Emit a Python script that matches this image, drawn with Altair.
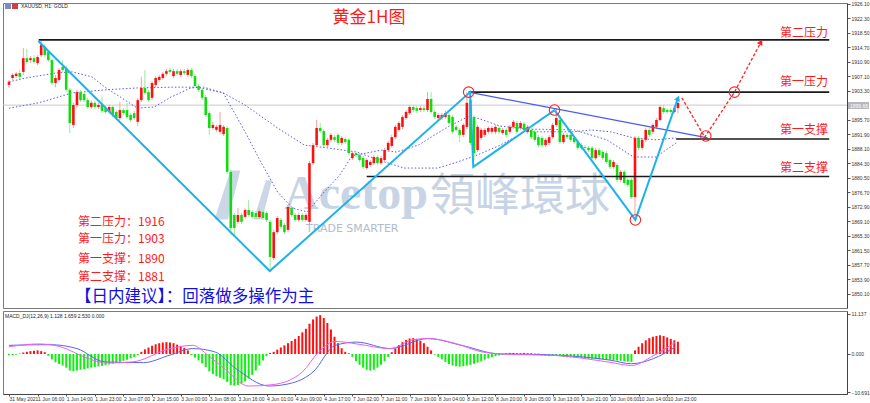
import altair as alt
import pandas as pd

# ---------------- data ----------------
OPEN = [
1904.9,1906.7,1907.2,1908.0,1908.3,1911.9,1911.4,1911.9,1910.6,1912.7,
1914.8,1913.5,1911.4,1905.4,1906.2,1909.6,1909.3,1903.6,1894.4,1899.6,
1903.0,1902.5,1900.9,1899.1,1900.2,1899.1,1899.6,1898.8,1897.8,1899.1,
1897.8,1896.2,1898.3,1898.3,1897.0,1897.5,1895.2,1900.9,1904.1,1903.0,
1901.5,1904.9,1906.2,1906.7,1907.8,1908.8,1907.2,1908.5,1907.5,1908.5,
1907.5,1908.8,1907.2,1904.6,1903.6,1901.7,1897.5,1893.6,1893.1,1892.6,
1892.0,1893.6,1882.1,1870.8,1869.0,1870.8,1870.3,1872.1,1871.6,1871.3,
1870.3,1871.6,1871.3,1869.0,1859.5,1866.3,1869.5,1868.2,1866.9,1872.6,
1870.8,1869.5,1870.8,1869.5,1869.0,1884.4,1889.1,1893.6,1892.8,1889.1,
1890.5,1891.2,1891.8,1889.7,1890.7,1890.5,1885.7,1887.0,1886.5,1885.7,
1883.1,1883.9,1884.4,1886.0,1884.4,1885.2,1887.8,1888.9,1891.2,1893.1,
1893.9,1896.2,1897.5,1899.1,1898.8,1898.3,1898.8,1898.3,1901.2,1897.8,
1896.2,1896.2,1896.5,1897.0,1896.5,1893.9,1893.1,1891.8,1893.9,1900.9,
1896.5,1887.8,1891.0,1891.8,1892.6,1892.6,1892.6,1893.6,1892.3,1893.1,
1892.6,1893.9,1894.9,1893.6,1894.7,1892.6,1893.1,1892.6,1891.2,1891.0,
1889.1,1889.7,1891.2,1894.4,1895.7,1889.9,1891.8,1891.8,1891.0,1889.9,
1889.1,1888.6,1888.4,1888.4,1885.7,1887.8,1887.3,1887.0,1885.2,1883.4,
1883.9,1880.0,1882.1,1880.0,1880.0,1875.5,1891.0,1888.4,1890.5,1893.1,
1892.6,1893.9,1895.7,1898.8,1898.3,1898.3,1897.8,1898.8]
CLOSE = [
1905.7,1907.5,1907.8,1907.0,1911.9,1910.9,1911.9,1910.9,1912.2,1915.4,
1912.7,1911.4,1905.4,1906.7,1908.8,1908.8,1903.6,1894.9,1899.6,1903.0,
1900.9,1900.9,1899.1,1900.2,1899.1,1899.6,1898.1,1897.8,1899.1,1897.0,
1896.2,1898.3,1897.5,1896.5,1895.7,1896.2,1900.9,1904.1,1902.8,1900.9,
1905.4,1906.7,1907.0,1907.8,1908.5,1908.3,1908.5,1907.8,1908.5,1908.0,
1908.8,1907.2,1904.6,1903.6,1901.5,1897.0,1893.6,1894.4,1893.9,1894.4,
1893.9,1882.1,1867.4,1867.4,1870.8,1869.0,1872.1,1870.8,1870.3,1870.3,
1871.8,1870.0,1869.5,1859.8,1866.3,1870.0,1867.7,1866.3,1872.9,1870.8,
1869.5,1870.8,1869.5,1870.8,1884.4,1889.1,1893.6,1892.8,1889.1,1890.5,
1891.8,1890.5,1889.7,1891.0,1889.9,1887.0,1887.0,1886.5,1885.2,1883.4,
1885.2,1884.7,1886.0,1884.4,1885.7,1887.8,1889.7,1891.2,1893.9,1894.9,
1896.5,1897.8,1899.1,1898.3,1898.1,1898.8,1898.3,1901.2,1897.8,1896.5,
1897.0,1897.0,1897.5,1894.9,1892.6,1893.1,1891.8,1894.4,1900.2,1889.7,
1887.0,1893.9,1893.1,1893.1,1893.6,1893.6,1893.9,1892.6,1893.1,1891.8,
1893.9,1895.2,1892.6,1894.9,1893.1,1893.9,1891.2,1890.5,1889.1,1889.1,
1890.5,1891.2,1894.4,1896.2,1889.9,1891.8,1891.2,1890.5,1889.9,1888.4,
1888.4,1888.4,1887.8,1885.7,1887.8,1886.5,1885.7,1884.7,1883.4,1884.7,
1880.0,1882.1,1879.2,1878.7,1875.5,1891.0,1888.4,1890.5,1893.1,1891.8,
1894.4,1895.7,1899.1,1897.8,1897.8,1897.8,1898.8,1900.2]
HIGH = [
1906.2,1908.0,1908.3,1908.8,1914.6,1914.3,1912.5,1912.7,1912.7,1916.4,
1915.6,1914.0,1911.9,1907.5,1909.3,1911.4,1909.9,1904.1,1900.2,1903.6,
1903.6,1903.0,1901.5,1900.7,1900.7,1900.2,1901.7,1899.4,1899.6,1899.6,
1898.3,1900.4,1898.8,1900.2,1897.5,1898.1,1901.5,1907.0,1908.8,1903.6,
1905.9,1907.2,1907.5,1908.3,1909.1,1909.3,1909.1,1909.1,1909.1,1909.1,
1909.3,1909.3,1907.8,1905.1,1904.1,1902.3,1898.1,1895.2,1894.4,1897.8,
1894.4,1894.1,1882.6,1871.3,1872.6,1871.3,1872.6,1874.7,1872.1,1871.8,
1872.4,1872.1,1871.8,1869.5,1866.9,1870.5,1870.0,1868.7,1873.4,1873.2,
1871.3,1871.3,1871.3,1871.3,1885.0,1889.7,1895.7,1894.9,1893.3,1891.0,
1892.3,1891.8,1892.3,1891.5,1891.2,1891.0,1887.6,1887.6,1887.0,1886.3,
1885.7,1885.2,1886.5,1886.5,1886.3,1888.4,1890.2,1891.8,1894.4,1895.4,
1897.0,1898.3,1899.6,1899.6,1899.4,1899.4,1899.4,1903.0,1903.0,1898.3,
1897.5,1897.5,1898.1,1897.5,1897.0,1894.4,1893.6,1894.9,1903.0,1901.2,
1897.0,1894.4,1893.6,1893.6,1894.1,1894.1,1894.4,1894.1,1893.6,1893.6,
1894.4,1895.7,1895.4,1895.4,1895.2,1894.4,1893.6,1893.1,1891.8,1891.5,
1891.0,1891.8,1894.9,1898.8,1897.0,1892.3,1892.3,1892.3,1891.5,1890.5,
1889.7,1889.1,1888.9,1888.9,1888.4,1888.4,1887.8,1887.6,1885.7,1885.2,
1884.4,1882.6,1882.6,1880.5,1880.5,1891.5,1891.5,1891.0,1893.6,1893.6,
1894.9,1896.2,1899.6,1899.6,1898.8,1898.8,1899.4,1900.7]
LOW = [
1904.1,1906.2,1906.7,1906.4,1907.5,1910.4,1910.6,1910.4,1910.1,1912.2,
1912.2,1910.9,1904.9,1904.3,1905.7,1908.3,1903.0,1892.3,1893.6,1899.1,
1900.4,1900.4,1898.6,1898.6,1898.6,1898.6,1897.5,1897.3,1897.3,1896.5,
1895.7,1895.7,1897.0,1896.0,1895.2,1895.7,1894.1,1900.4,1902.3,1900.4,
1900.9,1904.3,1905.7,1906.2,1907.2,1907.8,1906.7,1907.2,1907.0,1907.5,
1907.0,1906.7,1904.1,1903.0,1900.9,1896.5,1891.8,1893.1,1892.6,1892.0,
1891.5,1881.5,1865.6,1865.0,1868.4,1868.4,1869.8,1870.3,1869.8,1869.8,
1869.8,1869.5,1869.0,1856.4,1859.0,1865.8,1867.1,1865.8,1866.3,1870.3,
1869.0,1869.0,1869.0,1869.0,1868.4,1883.9,1888.6,1892.3,1888.6,1888.6,
1889.9,1889.9,1889.1,1889.1,1889.4,1886.5,1885.2,1886.0,1884.7,1882.9,
1882.6,1883.4,1883.9,1883.9,1883.9,1884.7,1887.3,1888.4,1890.7,1892.6,
1893.3,1895.7,1897.0,1897.8,1897.5,1897.8,1897.8,1897.8,1897.3,1896.0,
1895.7,1895.7,1896.0,1894.4,1892.0,1892.6,1889.9,1891.2,1893.3,1889.1,
1885.2,1887.3,1890.5,1891.2,1892.0,1892.0,1892.0,1892.0,1891.8,1891.2,
1892.0,1893.3,1892.0,1893.1,1892.6,1892.0,1890.7,1889.9,1888.6,1888.6,
1888.6,1889.1,1890.7,1893.9,1889.4,1889.4,1890.7,1889.9,1889.4,1887.8,
1887.8,1887.8,1887.3,1885.2,1885.2,1886.0,1885.2,1884.2,1882.9,1882.9,
1879.4,1879.4,1878.7,1878.1,1875.0,1870.3,1887.8,1887.8,1889.9,1891.2,
1892.0,1893.3,1895.2,1897.3,1897.3,1897.3,1897.3,1897.5]

# two dotted moving averages, sampled (bar index, price)
MA_FAST_I = [0,4.7,13,17.7,23.2,26.8,31.5,35.9,40.6,45.3,50.8,54.4,59.9,66,70.4,75.1,79.3,83.4,88.1,92.5,95.9,104.1,108.3,114.4,122.7,128.2,130.9,137.3,145.6,158,167.1,174.6,180.9,186.5]
MA_FAST_P = [1905.7,1906.7,1908.0,1908.3,1907.0,1904.3,1901.5,1898.8,1899.1,1901.7,1904.1,1904.3,1902.8,1892.6,1884.7,1876.8,1872.6,1871.6,1876.8,1881.3,1886.3,1887.8,1887.3,1889.1,1893.9,1896.5,1896.2,1894.1,1893.3,1893.1,1890.5,1886.0,1886.0,1889.7]
MA_SLOW_I = [0,8.3,17.7,26.8,35.9,45.3,52.5,59.9,66,75.1,82.6,88.9,97.2,105,110.5,119.9,125.4,130.9,137.3,144.2,158,162.7,168.2,174.6,180.9,186.5]
MA_SLOW_P = [1898.8,1900.2,1902.8,1903.6,1904.1,1904.3,1904.3,1902.8,1899.6,1893.6,1889.1,1888.4,1887.3,1884.7,1883.1,1883.1,1884.7,1886.5,1889.1,1892.6,1892.6,1893.1,1892.6,1891.0,1890.5,1891.0]

# support / resistance levels (start bar, end bar, price)
LEVEL_NAMES = ["第二压力", "第一压力", "第一支撑", "第二支撑"]
LEVEL_P = [1916.7, 1903.0, 1890.7, 1880.9]
LEVEL_I1 = [8.3, 128.5, 186.5, 100.0]
LEVEL_I2 = [229.3, 229.3, 229.3, 229.3]
CURRENT_PRICE = 1899.6

ZIG_I = [8.2, 72.9, 128.9, 129.8, 152.5, 175.1, 187.0]
ZIG_P = [1916.4, 1856.1, 1903.0, 1883.4, 1898.3, 1869.5, 1901.4]
TREND_I = [128.5, 195.3]
TREND_P = [1903.0, 1891.0]
PLAN_I = [188.1, 194.5, 202.8, 210.2]
PLAN_P = [1901.5, 1891.2, 1903.0, 1916.1]
CIRCLE_I = [128.5, 152.5, 175.1, 194.8, 202.8]
CIRCLE_P = [1903.0, 1898.3, 1869.5, 1891.5, 1903.0]

Y_TICKS = [1850.1,1853.9,1857.7,1861.5,1865.3,1869.1,1872.9,1876.7,1880.5,1884.3,
           1888.1,1891.9,1895.7,1903.3,1907.1,1910.9,1914.7,1918.5,1922.3,1926.1]
X_LABELS = ["31 May 2021","1 Jun 06:00","1 Jun 14:00","1 Jun 23:00","2 Jun 07:00",
            "2 Jun 15:00","3 Jun 00:00","3 Jun 08:00","3 Jun 16:00","4 Jun 01:00",
            "4 Jun 09:00","4 Jun 17:00","7 Jun 02:00","7 Jun 11:00","7 Jun 19:00",
            "8 Jun 04:00","8 Jun 12:00","8 Jun 20:00","9 Jun 05:00","9 Jun 13:00",
            "9 Jun 21:00","10 Jun 06:00","10 Jun 14:00","10 Jun 23:00"]

HIST = [-0.3,-0.3,-0.2,0.1,
        0.4,0.6,0.8,0.9,1.0,0.8,0.5,
        -0.5,-1.5,-2.3,-2.8,-3.2,-3.8,-4.6,-4.8,-4.6,-4.4,-4.2,-4.0,-3.8,-3.6,-3.4,-3.3,-3.1,-2.9,-2.7,-2.5,-2.2,-1.9,-1.6,-1.2,-0.8,-0.3,
        0.6,1.3,1.8,2.3,2.7,3.0,3.2,3.3,3.2,3.0,2.6,2.2,1.7,1.0,
        -0.3,-1.0,-1.8,-2.6,-3.6,-4.8,-5.6,-6.2,-6.6,-7.0,-7.8,-8.6,-8.8,-8.6,-8.2,-7.6,-6.8,-5.8,-4.6,-3.2,
        -1.8,-0.6,0.3,
        0.6,1.2,1.8,2.4,3.0,3.6,4.2,5.0,6.0,7.0,8.4,9.6,10.4,10.8,10.0,8.6,6.8,4.8,
        3.0,1.6,0.6,0.2,
        -0.8,-2.0,-3.0,-3.8,-4.4,-4.6,-4.4,-3.8,-3.0,-2.0,-0.8,
        0.5,1.5,2.5,3.3,3.9,4.3,4.4,4.2,3.7,3.0,2.0,1.0,
        -0.2,
        -0.8,-1.5,-2.2,-2.8,-3.2,-3.4,-3.5,-3.4,-3.2,-3.0,-2.7,-2.4,-2.0,-1.6,-1.2,-0.9,-0.6,-0.4,-0.2,
        0.2,0.3,0.3,0.2,0.2,0.3,0.2,0.2,0.1,0.1,
        -0.3,-0.5,-0.6,-0.5,-0.4,-0.6,-0.8,-0.9,-0.9,-1.0,-1.0,-1.1,-1.2,-1.3,-1.3,-1.4,-1.5,-1.5,-1.6,-1.6,-1.7,-1.8,-1.9,-2.0,-2.1,-2.2,
        1.0,2.0,3.0,3.8,4.4,4.8,5.0,5.2,5.0,4.6,4.2,3.8,3.4]
MACD_BLUE_I = [0,11.3,19,26.8,37.6,45,51.4,57.5,63.5,72.7,79.3,85,91.2,97.2,106.6,117.1,126.5,137.3,146.4,160.2,168,174,180.1,186.2]
MACD_BLUE_V = [2.4,2.6,1.5,-2.2,-2.4,-0.3,1.5,0.6,-4.1,-8.9,-8.0,-5.0,2.4,3.3,1.5,4.3,2.4,0.0,-0.1,-0.8,-1.7,-2.7,-1.3,1.9]
MACD_PINK_I = [0,8.3,14.4,22,26.8,34.5,45,51.4,55.8,60.5,66.9,73.8,82,86.5,91.2,97.2,106.6,112.7,117.1,124.9,132.6,140.3,152.5,168,174,180.1,186.2]
MACD_PINK_V = [2.0,2.8,2.0,-1.2,-2.5,-2.2,1.5,2.4,-0.5,-4.3,-8.9,-8.5,-5.0,0.5,3.5,2.8,1.5,3.9,4.3,2.9,0.5,-0.1,-0.4,-2.3,-3.2,-0.5,3.2]
MACD_TICKS = [11.137, 0.0, -10.691]

# ---------------- scales ----------------
W, H_MAIN, H_MACD = 844, 305, 83
xs = alt.Scale(domain=[-0.276, 232.87], nice=False, zero=False)
ys = alt.Scale(domain=[1846.42, 1926.36], nice=False, zero=False)
ms = alt.Scale(domain=[-11.11, 11.94], nice=False, zero=False)

yaxis = alt.Axis(orient="right", values=Y_TICKS, format=".2f", title=None, grid=False,
                 labelFontSize=5, labelFont="Liberation Sans", labelColor="#333",
                 tickSize=3, tickColor="#555", domainColor="#444", labelPadding=1,
                 labelOverlap=False)
maxis = alt.Axis(orient="right", values=MACD_TICKS, format=".3f", title=None, grid=False,
                 labelFontSize=5, labelFont="Liberation Sans", labelColor="#333",
                 tickSize=3, tickColor="#555", domainColor="#444", labelPadding=1,
                 labelOverlap=False)
xlab_expr = "[" + ",".join("'%s'" % s for s in X_LABELS) + "][round(datum.value/8)]"
xaxis = alt.Axis(values=list(range(0, 8 * len(X_LABELS), 8)), labelExpr=xlab_expr,
                 title=None, grid=False, labelFontSize=5, labelFont="Liberation Sans",
                 labelColor="#333", labelAlign="left", labelBaseline="top", labelPadding=0,
                 tickSize=2, tickColor="#555", domainColor="#444", labelOverlap=False,
                 labelFlush=False)

def XI(field="i"):
    return alt.X(f"{field}:Q", scale=xs, axis=None)

def YP(field="p"):
    return alt.Y(f"{field}:Q", scale=ys, axis=yaxis)

# ---------------- data frames ----------------
N = len(CLOSE)
candles = pd.DataFrame({"i": list(range(N)), "open": OPEN, "high": HIGH,
                        "low": LOW, "close": CLOSE})
ma = pd.concat([
    pd.DataFrame({"i": MA_FAST_I, "p": MA_FAST_P, "ma": "fast"}),
    pd.DataFrame({"i": MA_SLOW_I, "p": MA_SLOW_P, "ma": "slow"}),
])
levels = pd.DataFrame({"name": LEVEL_NAMES, "p": LEVEL_P, "i1": LEVEL_I1, "i2": LEVEL_I2})
zig = pd.DataFrame({"i": ZIG_I, "p": ZIG_P, "o": list(range(len(ZIG_I)))})
trend = pd.DataFrame({"i": TREND_I, "p": TREND_P, "o": [0, 1]})
plan = pd.DataFrame({"i": PLAN_I, "p": PLAN_P, "o": list(range(len(PLAN_I)))})
circles = pd.DataFrame({"i": CIRCLE_I, "p": CIRCLE_P})
cur = pd.DataFrame({"p": [CURRENT_PRICE]})
one = pd.DataFrame({"k": [0]})

up_cond = "datum.close >= datum.open"

# ---------------- main panel layers ----------------
def txt(s, x, y, size, color, font="Noto Sans CJK SC", align="left", weight="normal",
        opacity=1.0, baseline="middle"):
    return alt.Chart(one).mark_text(fontSize=size, color=color, font=font, align=align,
                                    baseline=baseline, fontWeight=weight,
                                    opacity=opacity).encode(
        x=alt.value(x), y=alt.value(y), text=alt.value(s))

wm_color = "#B9CADF"
watermark = [
    alt.Chart(one).mark_point(shape="M-1,1L-0.35,-1L0.05,-1L-0.45,1Z", filled=True,
                              color=wm_color, opacity=0.75, size=2400).encode(
        x=alt.value(236), y=alt.value(192)),
    alt.Chart(one).mark_point(shape="M-0.3,1L0.2,-0.6L0.45,-0.6L0.05,1Z", filled=True,
                              color=wm_color, opacity=0.75, size=2400).encode(
        x=alt.value(258), y=alt.value(192)),
    txt("Acetop", 281, 192, 48, wm_color, font="Liberation Serif", weight="bold", opacity=0.8),
    txt("領峰環球", 427, 194, 45, wm_color, font="Noto Sans CJK TC", opacity=0.8),
    txt("TRADE SMARTER", 303, 226, 11, "#A9B6C4", font="DejaVu Sans", opacity=0.9),
]

cur_line = alt.Chart(cur).mark_rule(color="#C8C8C8", strokeWidth=1).encode(
    y=YP("p"), x=alt.value(0), x2=alt.value(W))

ma_lines = alt.Chart(ma).mark_line(strokeDash=[1.5, 2], strokeWidth=1, color="#5A5AF0").encode(
    x=XI(), y=YP(), detail="ma:N")

wicks = alt.Chart(candles).mark_rule(strokeWidth=1).encode(
    x=XI(), y=YP("low"), y2="high:Q",
    color=alt.condition(up_cond, alt.value("#F7A0A0"), alt.value("#9BE89B")))
bodies = alt.Chart(candles).mark_bar(size=2.6).encode(
    x=XI(), y=YP("open"), y2="close:Q",
    color=alt.condition(up_cond, alt.value("#FF1010"), alt.value("#10DD10")))

level_lines = alt.Chart(levels).mark_rule(color="#1A1A1A", strokeWidth=1.6).encode(
    x=XI("i1"), x2="i2:Q", y=YP())

zig_line = alt.Chart(zig).mark_line(color="#1CB2EC", strokeWidth=2).encode(
    x=XI(), y=YP(), order="o:Q")
zig_head = alt.Chart(zig.tail(1)).mark_point(shape="triangle-up", filled=True,
                                             color="#1CB2EC", size=40, angle=19, opacity=1).encode(
    x=XI(), y=YP())
trend_line = alt.Chart(trend).mark_line(color="#4A5BEF", strokeWidth=1.3).encode(
    x=XI(), y=YP(), order="o:Q")
plan_line = alt.Chart(plan).mark_line(color="#FF2020", strokeWidth=1.3,
                                      strokeDash=[3, 2]).encode(x=XI(), y=YP(), order="o:Q")
plan_head = alt.Chart(plan.tail(1)).mark_point(shape="triangle-up", filled=True,
                                               color="#FF2020", size=40, angle=28, opacity=1).encode(
    x=XI(), y=YP())
circle_marks = alt.Chart(circles).mark_point(shape="circle", filled=False, color="#FF2020",
                                             size=110, strokeWidth=1.1, opacity=1).encode(
    x=XI(), y=YP())

red = "#FF1A1A"
texts = [
    alt.Chart(one).mark_rect(color="#7A8CC8").encode(
        x=alt.value(2), x2=alt.value(8), y=alt.value(0), y2=alt.value(6)),
    alt.Chart(one).mark_rect(color="#D04040").encode(
        x=alt.value(9), x2=alt.value(15), y=alt.value(0), y2=alt.value(6)),
    txt("XAUUSD, H1: GOLD", 18, 3, 5, "#222", font="Liberation Sans"),
    txt("黄金1H图", 366, 15, 17, red, align="center"),
    txt("第二压力", 801, 30, 12, red, align="center"),
    txt("第一压力", 801, 79, 12, red, align="center"),
    txt("第一支撑", 801, 127, 12, red, align="center"),
    txt("第二支撑", 801, 165, 12, red, align="center"),
    txt("第二压力：1916", 75, 218.5, 12, red),
    txt("第一压力：1903", 75, 236, 12, red),
    txt("第一支撑：1890", 75, 256, 12, red),
    txt("第二支撑：1881", 75, 273.5, 12, red),
    txt("【日内建议】：回落做多操作为主", 72, 294, 16.5, "#1010E0"),
]
price_box = [
    alt.Chart(one).mark_rect(color="#B8B8B8").encode(
        x=alt.value(W + 1), x2=alt.value(W + 22), y=alt.value(99), y2=alt.value(106)),
    txt("1899.66", W + 3, 102.5, 5, "#FFFFFF", font="Liberation Sans"),
]

main = alt.layer(
    *watermark, cur_line, ma_lines, wicks, bodies, level_lines, trend_line, zig_line,
    zig_head, plan_line, plan_head, circle_marks, *texts, *price_box
).properties(width=W, height=H_MAIN)

# ---------------- MACD panel ----------------
macd_df = pd.DataFrame({"i": list(range(len(HIST))), "h": HIST})
lines_df = pd.concat([
    pd.DataFrame({"i": MACD_BLUE_I, "v": MACD_BLUE_V, "s": "signal"}),
    pd.DataFrame({"i": MACD_PINK_I, "v": MACD_PINK_V, "s": "macd"}),
])
hist = alt.Chart(macd_df).mark_bar(size=2).encode(
    x=alt.X("i:Q", scale=xs, axis=xaxis),
    y=alt.Y("h:Q", scale=ms, axis=maxis), y2=alt.datum(0),
    color=alt.condition("datum.h >= 0", alt.value("#FF1010"), alt.value("#10F010")))
mlines = alt.Chart(lines_df).mark_line(strokeWidth=1, interpolate="monotone").encode(
    x=alt.X("i:Q", scale=xs, axis=xaxis),
    y=alt.Y("v:Q", scale=ms, axis=maxis),
    color=alt.Color("s:N", scale=alt.Scale(domain=["macd", "signal"],
                                           range=["#F060F0", "#5566EE"]), legend=None))
macd_title = txt("MACD_DJ(12,26,9) 1.128 1.659 2.530 0.000", 2, 5, 5, "#222",
                 font="Liberation Sans")
macd = alt.layer(hist, mlines, macd_title).properties(width=W, height=H_MACD)

chart = alt.vconcat(main, macd, spacing=1).properties(
    padding={"left": 2, "top": 1, "right": 0, "bottom": 0},
    background="white",
).configure_view(stroke="#7A7A7A", strokeWidth=1)

chart.save("out.html", embed_options={"renderer": "svg", "actions": False})
